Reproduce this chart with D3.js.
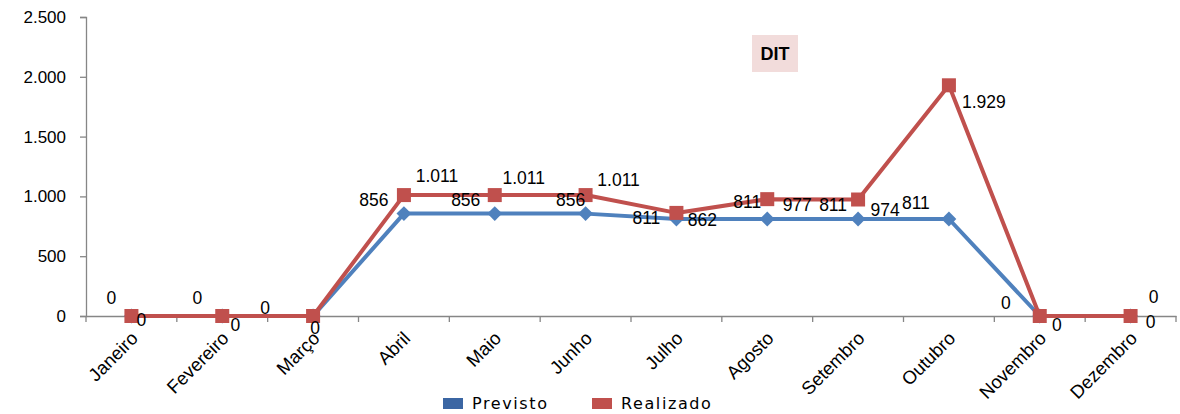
<!DOCTYPE html>
<html><head><meta charset="utf-8">
<script src="https://cdn.jsdelivr.net/npm/d3@7"></script>
<style>
html,body{margin:0;padding:0;background:#fff;}
svg{display:block;}
</style></head>
<body>
<svg id="chart" width="1180" height="414"></svg>
<script>
const months = ["Janeiro","Fevereiro","Março","Abril","Maio","Junho","Julho","Agosto","Setembro","Outubro","Novembro","Dezembro"];
const previsto = [0,0,0,856,856,856,811,811,811,811,0,0];
const realizado = [0,0,0,1011,1011,1011,862,977,974,1929,0,0];
const yTicks = [0,500,1000,1500,2000,2500];
const seriesNames = ["Previsto","Realizado"];
const title = "DIT";
// label offsets (px) relative to each point, as placed in the original chart
const previstoLabelOffset = [[-20,-18],[-25,-18],[-48,-8],[-30,-14],[-29,-14],[-15,-14],[-30,-1],[-20,-17],[-25,-14],[-33,-16],[-34,-13],[23,-19]];
const realizadoLabelOffset = [[10,4],[13,9],[2,12],[33,-19],[29,-17],[33,-15],[26,7],[30,6],[27,10],[35,17],[17,9],[20,6]];

(function(){
const colors = {prev:"#4f81bd", real:"#c0504d", prevLegend:"#3b66a3", axis:"#868686"};
const svg = d3.select("#chart");
const mLeft = 86, mRight = 1176, mTop = 17, mBottom = 316;

const x = d3.scaleBand().domain(months).range([mLeft, mRight]).padding(0);
const y = d3.scaleLinear().domain([0, 2500]).range([mBottom, mTop]);
const loc = d3.formatLocale({decimal:",", thousands:".", grouping:[3], currency:["",""]});
const fmt = loc.format(",");

// Y axis
const gy = svg.append("g").attr("transform", `translate(${mLeft},0)`)
  .call(d3.axisLeft(y).tickValues(yTicks).tickFormat(fmt).tickSize(6).tickPadding(14));
gy.select(".domain").attr("stroke", colors.axis).attr("stroke-width", 1.3);
gy.selectAll(".tick line").attr("stroke", colors.axis).attr("stroke-width", 1.3);
gy.selectAll(".tick text").attr("font-family", "Liberation Sans, Arial, sans-serif").attr("font-size", 17).attr("fill", "#000");

// X axis
const gx = svg.append("g").attr("transform", `translate(0,${mBottom})`)
  .call(d3.axisBottom(x).tickSize(0).tickFormat(""));
gx.select(".domain").attr("stroke", colors.axis).attr("stroke-width", 1.3);
const bounds = months.map(m => x(m)).concat([x(months[months.length-1]) + x.bandwidth()]);
gx.selectAll("line.bt").data(bounds).enter().append("line").attr("class","bt")
  .attr("x1", d => d).attr("x2", d => d).attr("y1", 0).attr("y2", 6)
  .attr("stroke", colors.axis).attr("stroke-width", 1.3);
svg.append("g").selectAll("text").data(months).enter().append("text")
  .attr("transform", d => `translate(${x(d) + x.bandwidth()/2 + 3},${mBottom + 19}) rotate(-45)`)
  .attr("text-anchor", "end")
  .attr("font-family", "Liberation Sans, Arial, sans-serif")
  .attr("font-size", 18.5)
  .attr("dy", "0.35em")
  .text(d => d);

const cx = i => x(months[i]) + x.bandwidth()/2;
const line = d3.line().x((d,i) => cx(i)).y(d => y(d));

svg.append("path").datum(previsto).attr("d", line).attr("fill","none")
  .attr("stroke", colors.prev).attr("stroke-width", 4).attr("stroke-linejoin","round");
svg.append("g").selectAll("path").data(previsto).enter().append("path")
  .attr("d", d3.symbol().type(d3.symbolDiamond2).size(140))
  .attr("transform", (d,i) => `translate(${cx(i)},${y(d)})`)
  .attr("fill", colors.prev);

svg.append("path").datum(realizado).attr("d", line).attr("fill","none")
  .attr("stroke", colors.real).attr("stroke-width", 4).attr("stroke-linejoin","round");
svg.append("g").selectAll("rect").data(realizado).enter().append("rect")
  .attr("x", (d,i) => cx(i) - 7).attr("y", d => y(d) - 7)
  .attr("width", 14).attr("height", 14).attr("fill", colors.real);

function labels(data, offs) {
  svg.append("g").selectAll("text").data(data).enter().append("text")
    .attr("x", (d,i) => cx(i) + offs[i][0])
    .attr("y", (d,i) => y(d) + offs[i][1])
    .attr("text-anchor", "middle").attr("dy", "0.35em")
    .attr("font-family", "Liberation Sans, Arial, sans-serif")
    .attr("font-size", 17.5).attr("fill", "#000")
    .text(d => fmt(d));
}
labels(previsto, previstoLabelOffset);
labels(realizado, realizadoLabelOffset);

svg.append("rect").attr("x", 752).attr("y", 35).attr("width", 46).attr("height", 37).attr("fill", "#f2dcdb");
svg.append("text").attr("x", 775).attr("y", 54).attr("dy","0.35em").attr("text-anchor","middle")
  .attr("font-family", "Liberation Sans, Arial, sans-serif").attr("font-weight","bold").attr("font-size", 18)
  .text(title);

const legend = [{name: seriesNames[0], c: colors.prevLegend, x: 443}, {name: seriesNames[1], c: colors.real, x: 592}];
const lg = svg.append("g").selectAll("g").data(legend).enter().append("g")
  .attr("transform", d => `translate(${d.x},398)`);
lg.append("rect").attr("width", 20).attr("height", 11).attr("fill", d => d.c);
lg.append("text").attr("x", 29).attr("y", 5.5).attr("dy","0.35em")
  .attr("font-family", "DejaVu Sans, Verdana, sans-serif").attr("font-size", 16)
  .attr("letter-spacing", 1.6)
  .text(d => d.name);
})();
</script>
</body></html>
